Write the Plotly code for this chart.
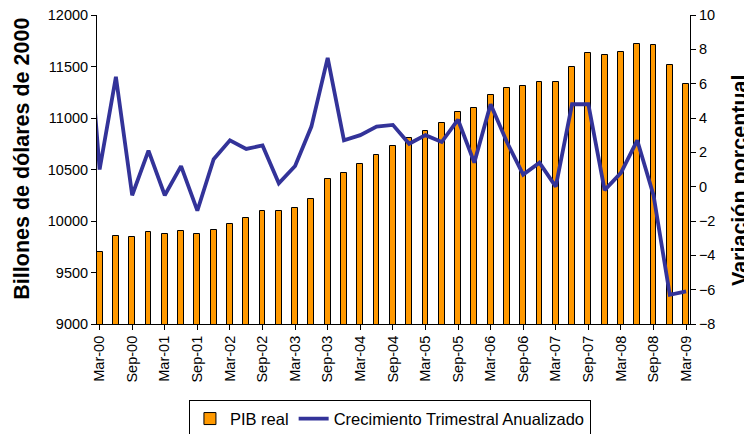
import plotly.graph_objects as go

# quarters (Dec-99 only carries the clipped start of the growth line)
trimestres = ["Dec-99",
              "Mar-00", "Jun-00", "Sep-00", "Dec-00",
              "Mar-01", "Jun-01", "Sep-01", "Dec-01",
              "Mar-02", "Jun-02", "Sep-02", "Dec-02",
              "Mar-03", "Jun-03", "Sep-03", "Dec-03",
              "Mar-04", "Jun-04", "Sep-04", "Dec-04",
              "Mar-05", "Jun-05", "Sep-05", "Dec-05",
              "Mar-06", "Jun-06", "Sep-06", "Dec-06",
              "Mar-07", "Jun-07", "Sep-07", "Dec-07",
              "Mar-08", "Jun-08", "Sep-08", "Dec-08",
              "Mar-09"]

# PIB real, billones de dolares de 2000
pib_real = [None,
            9695, 9854, 9841, 9893,
            9877, 9907, 9877, 9913,
            9975, 10033, 10094, 10094,
            10130, 10214, 10406, 10467,
            10549, 10636, 10730, 10802,
            10873, 10948, 11054, 11093,
            11223, 11294, 11311, 11351,
            11351, 11492, 11629, 11613,
            11639, 11721, 11711, 11518,
            11328]

# crecimiento trimestral anualizado, %
crecimiento = [13.0,
               1.0, 6.4, -0.5, 2.1,
               -0.5, 1.2, -1.4, 1.6,
               2.7, 2.2, 2.4, 0.2,
               1.2, 3.5, 7.5, 2.7,
               3.0, 3.5, 3.6, 2.5,
               3.0, 2.6, 3.9, 1.4,
               4.8, 2.6, 0.7, 1.4,
               0.0, 4.8, 4.8, -0.2,
               0.8, 2.7, -0.5, -6.3,
               -6.1]

etiquetas = trimestres[1::2]

fuente = "Liberation Sans, Arial, sans-serif"

fig = go.Figure()

fig.add_trace(go.Bar(
    x=trimestres, y=pib_real, name="PIB real",
    width=0.36,
    marker=dict(color="#FF9900", line=dict(color="#000000", width=1)),
))

fig.add_trace(go.Scatter(
    x=trimestres, y=crecimiento, name="Crecimiento Trimestral Anualizado",
    mode="lines", yaxis="y2",
    line=dict(color="#333399", width=3.8),
))

# page body adds ~8px around the figure, so the figure is 8px smaller
fig.update_layout(
    width=744, height=426,
    margin=dict(l=89, r=62, t=7, b=110, autoexpand=False),
    paper_bgcolor="white", plot_bgcolor="white",
    font=dict(family=fuente, size=14.5, color="black"),
    showlegend=True,
    legend=dict(
        orientation="h", x=0.494, xanchor="center", y=-0.247, yanchor="top",
        bordercolor="black", borderwidth=1, font=dict(size=16.5),
        traceorder="normal",
    ),
    xaxis=dict(
        type="category", range=[0.84, 37.24], automargin=False,
        tickmode="array", tickvals=etiquetas, ticktext=etiquetas,
        tickangle=-90, ticks="outside", ticklen=5, tickcolor="black",
        showline=True, linecolor="black", linewidth=1,
        showgrid=False, zeroline=False,
    ),
    yaxis=dict(
        range=[9000, 12000], dtick=500, tickformat="d", automargin=False,
        ticks="outside", ticklen=5, tickcolor="black",
        ticklabeloverflow="allow",
        showline=True, linecolor="black", linewidth=1,
        showgrid=False, zeroline=False,
    ),
    yaxis2=dict(
        overlaying="y", side="right", automargin=False,
        range=[-8, 10], dtick=2,
        ticks="outside", ticklen=5, tickcolor="black",
        ticklabeloverflow="allow",
        showline=True, linecolor="black", linewidth=1,
        showgrid=False, zeroline=False,
    ),
    bargap=0,
)

# axis titles
fig.add_annotation(
    text="<b>Billones de dólares de 2000</b>", textangle=-90,
    xref="paper", yref="paper", x=-0.1265, y=0.535,
    xanchor="center", yanchor="middle", showarrow=False,
    font=dict(size=21.5),
)
fig.add_annotation(
    text="<b>Variación porcentual</b>", textangle=-90,
    xref="paper", yref="paper", x=1.0843, y=0.466,
    xanchor="center", yanchor="middle", showarrow=False,
    font=dict(size=21.5),
)

fig.write_html("out.html")
